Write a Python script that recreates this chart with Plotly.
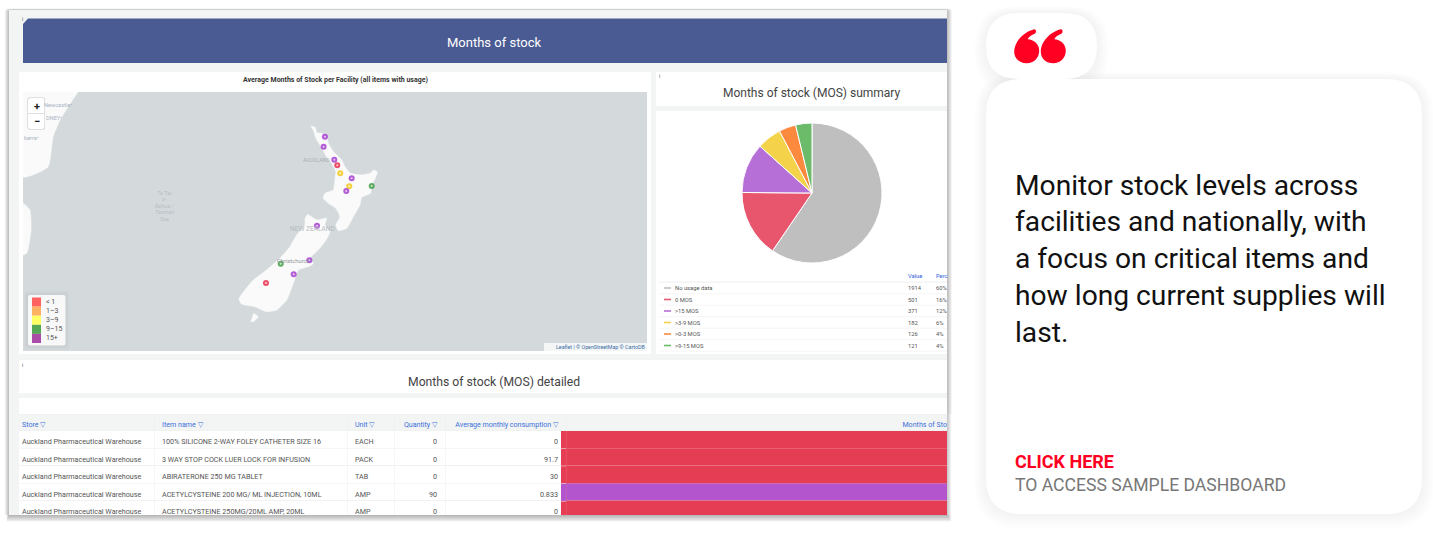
import plotly.graph_objects as go

W, H = 1433, 543

# --- pie summary ---
mos_labels = ["No usage data", "0 MOS", ">15 MOS", ">3-9 MOS", ">0-3 MOS", ">9-15 MOS"]
mos_values = [1914, 501, 371, 182, 126, 121]
mos_percent = ["60%", "16%", "12%", "6%", "4%", "4%"]
mos_colors = ["#bfbfbf", "#e8566e", "#b56fd6", "#f4d24a", "#fb8a3e", "#6bbb6b"]

# --- map: facilities (lon, lat) ---
fac_lon = [173.97, 173.85, 174.82, 175.09, 175.36, 176.40, 176.18, 175.91, 178.22, 173.25, 172.55, 169.95, 171.13, 168.61]
fac_lat = [-35.12, -35.79, -36.66, -37.04, -37.57, -37.91, -38.45, -38.76, -38.43, -41.09, -43.41, -43.64, -44.35, -44.94]
fac_band = ["15+", "15+", "15+", "<1", "3-9", "15+", "3-9", "15+", "9-15", "15+", "15+", "9-15", "15+", "<1"]
band_colors = {"<1": "#e8304f", "3-9": "#f2c81e", "9-15": "#43a047", "15+": "#a640cf"}

north_lon = [172.67, 173.09, 173.22, 173.67, 174.12, 174.28, 174.73, 175.19, 175.49, 175.79, 176.31, 177.31, 178.06, 178.43, 178.73, 178.55, 178.21, 178.12, 177.31, 177.15, 176.55, 175.94, 175.19, 174.97, 175.34, 174.97, 174.28, 173.82, 173.97, 174.73, 174.91, 174.97, 174.58, 174.12, 173.52, 173.15, 172.97]
north_lat = [-34.40, -34.49, -34.85, -34.89, -35.12, -35.56, -36.12, -36.46, -36.68, -37.13, -37.58, -37.69, -37.58, -37.35, -37.49, -37.91, -38.36, -38.92, -39.19, -39.70, -40.49, -41.27, -41.42, -41.04, -40.49, -39.93, -39.59, -39.25, -38.92, -38.70, -37.80, -37.46, -36.90, -36.46, -35.68, -35.23, -34.78]
south_lon = [172.37, 172.76, 173.27, 174.12, 173.97, 174.43, 173.97, 173.37, 172.61, 172.91, 172.46, 171.55, 171.09, 170.49, 169.58, 168.67, 167.61, 166.40, 166.15, 166.70, 167.46, 168.67, 169.88, 170.79, 171.40, 172.15, 172.15]
south_lat = [-40.33, -40.49, -40.71, -40.60, -41.04, -41.49, -42.16, -42.72, -43.28, -43.62, -43.84, -44.06, -44.96, -46.08, -46.75, -46.86, -46.53, -46.35, -46.01, -45.41, -44.74, -44.06, -43.28, -42.50, -41.72, -41.04, -40.60]
stewart_lon = [167.46, 167.91, 167.46, 167.22]
stewart_lat = [-46.97, -47.20, -47.53, -47.53]
aus_lon = [151.52, 150.61, 149.88, 149.25, 148.79, 146.52, 146.52]
aus_lat = [-32.12, -33.12, -34.00, -35.14, -37.15, -37.82, -32.12]
tas_lon = [146.52, 147.15, 147.25, 146.88, 146.52]
tas_lat = [-39.57, -40.04, -41.38, -42.92, -43.06]

legend_labels = ["< 1", "1–3", "3–9", "9–15", "15+"]
legend_colors = ["#ff6060", "#ffb060", "#ffff66", "#55a855", "#aa4da8"]

# --- detail table ---
store = ["Auckland Pharmaceutical Warehouse"] * 5
item = ["100% SILICONE 2-WAY FOLEY CATHETER SIZE 16", "3 WAY STOP COCK LUER LOCK FOR INFUSION",
        "ABIRATERONE 250 MG TABLET", "ACETYLCYSTEINE 200 MG/ ML INJECTION, 10ML",
        "ACETYLCYSTEINE 250MG/20ML AMP, 20ML"]
unit = ["EACH", "PACK", "TAB", "AMP", "AMP"]
quantity = ["0", "0", "0", "90", "0"]
consumption = ["0", "91.7", "30", "0.833", "0"]
row_fill = ["#e53e54", "#e53e54", "#e53e54", "#b355cc", "#e53e54"]

quote_lines = ["Monitor stock levels across", "facilities and nationally, with",
               "a focus on critical items and", "how long current supplies will", "last."]

shapes = []
notes = []


def rounded(x0, y0, x1, y1, r):
    return (f"M{x0+r},{y0} L{x1-r},{y0} Q{x1},{y0} {x1},{y0+r} L{x1},{y1-r} Q{x1},{y1} {x1-r},{y1} "
            f"L{x0+r},{y1} Q{x0},{y1} {x0},{y1-r} L{x0},{y0+r} Q{x0},{y0} {x0+r},{y0} Z")


def quote_mark(cx, cy):
    # round bulb with a tail curling to the upper right
    return (f"M{cx+7.5},{cy-21.5} C{cx-3},{cy-19} {cx-12.5},{cy-9} {cx-12.5},{cy+1} "
            f"C{cx-12.5},{cy+8} {cx-7},{cy+12.5} {cx},{cy+12.5} "
            f"C{cx+7},{cy+12.5} {cx+12.5},{cy+7} {cx+12.5},{cy} "
            f"C{cx+12.5},{cy-7} {cx+7},{cy-11} {cx+1},{cy-11.5} "
            f"C{cx+2},{cy-14} {cx+5},{cy-16} {cx+8},{cy-17} "
            f"C{cx+10},{cy-18} {cx+9.5},{cy-22} {cx+7.5},{cy-21.5} Z")


def box(x0, y0, x1, y1, color, layer="below"):
    shapes.append(dict(type="rect", x0=x0, y0=y0, x1=x1, y1=y1, xref="x", yref="y",
                       fillcolor=color, line_width=0, layer=layer))


def soft(x0, y0, x1, y1, r, color, layer="below"):
    shapes.append(dict(type="path", path=rounded(x0, y0, x1, y1, r), xref="x", yref="y",
                       fillcolor=color, line_width=0, layer=layer))


def label(x, y, text, size=7, color="#444444", anchor="left", family="Roboto"):
    notes.append(dict(x=x, y=y, xref="x", yref="y", text=text, showarrow=False, xanchor=anchor,
                      yanchor="middle", borderpad=0, font=dict(family=family, size=size, color=color)))


# screenshot shadow + background
for i in range(7, 0, -1):
    soft(9 - i * 0.6, 10 - i * 0.2, 947 + i * 0.7, 515 + i * 1.1, 3, "rgba(0,0,0,0.04)")
box(9, 10, 947, 515, "#f3f4f4")

# header
shapes.append(dict(type="path", path="M28,18.5 L947,18.5 L947,63 L23,63 L23,24 Z", xref="x", yref="y",
                   fillcolor="#4a5b93", line_width=0, layer="below"))
label(494, 42, "Months of stock", 13, "#ffffff", "center")
label(22.5, 19, "i", 5, "#555555", "center")

# panels
box(19, 72, 651, 354, "#ffffff")
box(656, 72, 947, 106, "#ffffff")
box(656, 111, 947, 354, "#ffffff")
box(19, 360, 947, 393, "#ffffff")
box(19, 398, 947, 415, "#ffffff")
box(23, 92, 647, 351, "#d4dadc")

label(335, 79.5, "<b>Average Months of Stock per Facility (all items with usage)</b>", 7, "#333333", "center")
label(812, 93, "Months of stock (MOS) summary", 12, "#444444", "center")
label(494, 382, "Months of stock (MOS) detailed", 12.2, "#444444", "center")
label(659, 76, "i", 5, "#555555", "center")
label(22, 365, "i", 5, "#555555", "center")

# map texts
label(43, 105, "Newcastle•", 5.6, "#a9b4c4")
label(45, 118, "DNEY•", 5.6, "#a9b4c4")
label(23, 138, "berra•", 5.6, "#a9b4c4")
for k, t in enumerate(["Te Tai-", "o-", "Rehua /", "Tasman", "Sea"]):
    label(164.5, 193 + k * 6.4, f"<i>{t}</i>", 5.6, "#b7bec6", "center")
label(331, 160, "AUCKLAND", 5.2, "#a8adb5", "right")
label(312, 229, "NEW ZEALAND", 6.6, "#b5b9c0", "center")
label(276, 260.7, "Christchurch", 5.8, "#8f959c")

# zoom control
soft(27.5, 97.5, 45, 129.5, 2, "#c4c4c4", "above")
soft(28, 98, 44.5, 129, 2, "#ffffff", "above")
shapes.append(dict(type="line", x0=28, x1=44.5, y0=113.5, y1=113.5, xref="x", yref="y",
                   line=dict(color="#cccccc", width=0.6), layer="above"))
label(36.5, 106.5, "<b>+</b>", 11, "#222222", "center")
label(36.5, 121.5, "<b>−</b>", 11, "#222222", "center")

# map legend
for i in range(4, 0, -1):
    soft(28 - i, 295 - i, 65.5 + i, 345.5 + i, 3, "rgba(0,0,0,0.012)", "above")
soft(28, 295, 65.5, 345.5, 2, "#f8f8f8", "above")
for i, (txt, col) in enumerate(zip(legend_labels, legend_colors)):
    box(32, 297.5 + i * 9.1, 41, 306.6 + i * 9.1, col, "above")
    label(45, 302 + i * 9.1, txt, 7, "#555555")

# attribution
box(544, 343, 647, 351, "rgba(255,255,255,0.75)", "above")
label(645.5, 347, "Leaflet | © OpenStreetMap © CartoDB", 5.3, "#3a6ea5", "right")

# pie legend
label(907, 276, "Value", 5.8, "#2f62d9")
label(935, 276, "Perc", 5.8, "#2f62d9")
shapes.append(dict(type="line", x0=659, x1=947, y0=282, y1=282, xref="x", yref="y",
                   line=dict(color="#eeeeee", width=1), layer="below"))
for i in range(len(mos_labels)):
    yy = 288 + i * 11.5
    shapes.append(dict(type="line", x0=664, x1=671, y0=yy, y1=yy, xref="x", yref="y",
                       line=dict(color=mos_colors[i], width=1.6), layer="below"))
    shapes.append(dict(type="line", x0=659, x1=947, y0=yy + 5.7, y1=yy + 5.7, xref="x", yref="y",
                       line=dict(color="#eeeeee", width=0.6), layer="below"))
    label(674, yy, mos_labels[i], 5.8, "#555555")
    label(907, yy, str(mos_values[i]), 5.8, "#555555")
    label(935, yy, mos_percent[i], 5.8, "#555555")

# right hand card
for i in range(12, 0, -1):
    soft(986 - i, 13 - i * 0.6, 1097 + i, 79 + i * 1.2, 33 + i * 0.5, "rgba(0,0,0,0.0035)")
    soft(986 - i, 79 - i * 0.6, 1422 + i, 514 + i * 1.2, 36 + i * 0.5, "rgba(0,0,0,0.0035)")
soft(986, 13, 1097, 79, 33, "#ffffff")
soft(986, 79, 1422, 514, 36, "#ffffff")
for cx in [1026.7, 1053.3]:
    shapes.append(dict(type="path", path=quote_mark(cx, 50.7), xref="x", yref="y",
                       fillcolor="#ff0022", line_width=0, layer="below"))

for i, line in enumerate(quote_lines):
    label(1014, 185 + i * 36.8, line, 28.2, "#111111", family="Roboto")
label(1014, 461.5, "<b>CLICK HERE</b>", 18, "#ff0022")
label(1014, 484.5, "TO ACCESS SAMPLE DASHBOARD", 17.6, "#777777")

fig = go.Figure()

# page axis only carries the panels
fig.add_trace(go.Scatter(x=[0, W], y=[0, H], mode="markers", marker=dict(opacity=0), hoverinfo="skip",
                         xaxis="x", yaxis="y"))

for lons, lats in [(aus_lon, aus_lat), (tas_lon, tas_lat), (north_lon, north_lat),
                   (south_lon, south_lat), (stewart_lon, stewart_lat)]:
    fig.add_trace(go.Scatter(x=lons, y=lats, mode="lines", fill="toself", fillcolor="#fafafa",
                             line=dict(color="#fafafa", width=0.5, shape="spline", smoothing=0.5),
                             hoverinfo="skip", xaxis="x2", yaxis="y2"))

fig.add_trace(go.Scatter(x=fac_lon, y=fac_lat, mode="markers", xaxis="x2", yaxis="y2",
                         marker=dict(size=6, opacity=0.85, color=[band_colors[b] for b in fac_band])))
fig.add_trace(go.Scatter(x=fac_lon, y=fac_lat, mode="markers", xaxis="x2", yaxis="y2", hoverinfo="skip",
                         marker=dict(size=2, opacity=0.7, color="#ffffff")))

fig.add_trace(go.Pie(values=mos_values, labels=mos_labels, sort=False, direction="clockwise", rotation=0,
                     marker=dict(colors=mos_colors, line=dict(color="#ffffff", width=1)),
                     textinfo="none", showlegend=False,
                     domain=dict(x=[742 / W, 882 / W], y=[1 - 263 / H, 1 - 123 / H])))

blue = "#3b6fd8"
# the table pads its text by 8px, so its columns start left of the panel and end right of the page edge
fig.add_trace(go.Table(
    domain=dict(x=[14 / W, 955 / W], y=[0, 1 - 414 / H]),
    columnwidth=[140, 193, 47, 51, 121, 389],
    header=dict(values=["Store ▽", "Item name ▽", "Unit ▽", "Quantity ▽", "Average monthly consumption ▽", "Months of Sto"],
                align=["left", "left", "left", "right", "right", "right"],
                fill_color="#f3f5f5", line=dict(color="#eeeeee", width=0.5),
                font=dict(family="Roboto", size=7.1, color=blue), height=16.5),
    cells=dict(values=[store, item, unit, quantity, consumption, [""] * 5],
               align=["left", "left", "left", "right", "right", "right"],
               fill_color=[["#ffffff"] * 5] * 5 + [row_fill],
               line=dict(color=["#eeeeee"] * 5 + ["#ee7f8d"], width=0.5),
               font=dict(family="Roboto", size=7.2, color="#555555"), height=17.6)))

# colour cells start a little earlier than the table column
for i, col in enumerate(row_fill):
    box(561, 431 + i * 17.6, 566.5, 431 + (i + 1) * 17.6 - 0.5, col, "above")

# mask what the table draws outside the screenshot
box(9, 414, 19, 515, "#f3f4f4", "above")
box(947, 414, 956, 543, "#ffffff", "above")
box(0, 515, 956, 543, "#ffffff", "above")
for i in range(6, 0, -1):
    box(9 - i * 0.4, 515, 947 + i * 0.7, 515 + i * 1.1, "rgba(0,0,0,0.05)", "above")
    box(947, 414, 947 + i * 0.7, 515, "rgba(0,0,0,0.04)", "above")

fig.update_layout(
    width=W, height=H, margin=dict(l=0, r=0, t=0, b=0), paper_bgcolor="#ffffff", plot_bgcolor="rgba(0,0,0,0)",
    showlegend=False, shapes=shapes, annotations=notes,
    xaxis=dict(range=[0, W], domain=[0, 1], visible=False, fixedrange=True),
    yaxis=dict(range=[H, 0], domain=[0, 1], visible=False, fixedrange=True),
    xaxis2=dict(range=[146.52, 203.25], domain=[23 / W, 647 / W], visible=False, anchor="y2", fixedrange=True),
    yaxis2=dict(range=[-49.50, -32.12], domain=[1 - 351 / H, 1 - 92 / H], visible=False, anchor="x2", fixedrange=True),
)

fig.write_html("out.html", config=dict(displayModeBar=False),
               post_script="document.body.style.margin='0';document.body.style.overflow='hidden';")
